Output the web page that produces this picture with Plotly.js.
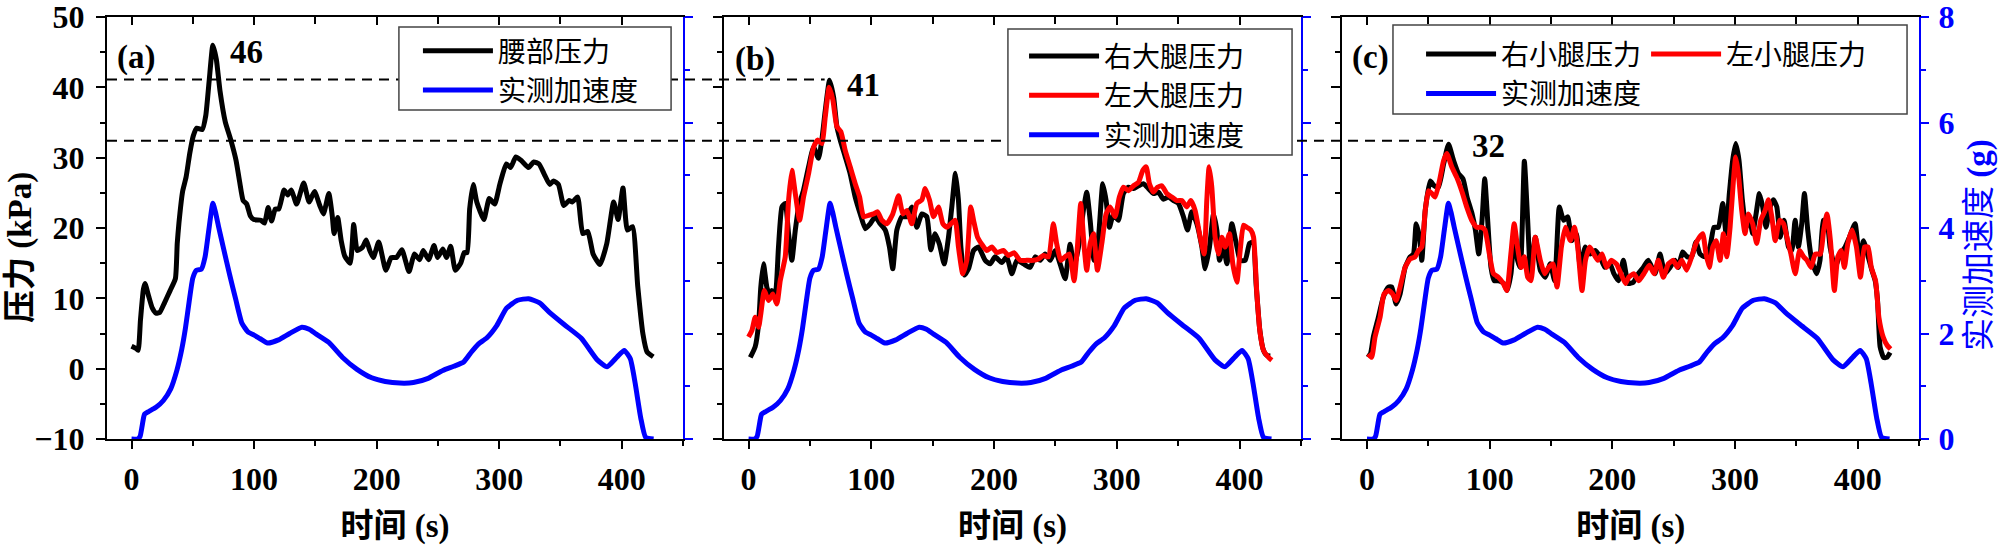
<!DOCTYPE html>
<html><head><meta charset="utf-8">
<script src="https://cdn.plot.ly/plotly-3.0.1.min.js"></script>
<style>html,body{margin:0;padding:0;background:#fff;} #chart{width:2000px;height:545px;}</style>
</head><body><div id="chart"></div>
<script>
// ---------------- DATA ----------------
// measured acceleration (g), same record shown in all three panels
const accT = [0,5,7,8.7,10.6,14,20,26,32,37,41,44,47,50,53,57,60,63,66.4,68.5,71,75,80,85,90,95,100,105,111,120,129,139,145,150,161,172,184,196,207,219,230,242,254,263,271,277,283,290,298,306,315,324,333,341,353,367,380,388,396,402,407,411,415.5,419.5,426];
const accG = [0,0,0.05,0.25,0.47,0.52,0.6,0.73,0.95,1.3,1.7,2.1,2.6,3.05,3.2,3.22,3.45,3.95,4.47,4.3,4.03,3.62,3.12,2.65,2.2,2.03,1.97,1.9,1.82,1.88,2.0,2.12,2.08,2.0,1.83,1.55,1.32,1.16,1.09,1.06,1.07,1.15,1.3,1.38,1.46,1.64,1.8,1.92,2.15,2.48,2.63,2.66,2.58,2.4,2.17,1.91,1.5,1.37,1.55,1.68,1.52,1.05,0.4,0.03,0];

// (a) waist pressure (kPa)
const waistT = [0,3.5,5.4,7.3,9.7,11,14,17,20,23,27,31.5,35.8,37.3,38.7,41.7,44.5,47.5,50.4,53.3,57.7,60.6,63.4,66.4,69.2,72.2,76.5,80.9,85.3,88.2,91.1,94,97,99.8,105.6,108.5,111.5,114.3,117.3,120.2,124.5,127.5,130.4,134.7,140.5,144.9,149.3,153.6,156.6,161,163.8,165.3,168.2,171.1,174,178.4,181.3,184.2,188.6,191.5,194.4,197.3,201.7,207.5,211.9,216.2,220.6,226.4,230.8,235.1,238,242.4,246.8,249.7,254,257,260.4,264.2,268.6,271.5,273.8,275.9,278.8,281.7,287.5,291.9,296.3,300.5,305.8,309.3,313.6,318,323.8,328.2,332.5,336.9,341.2,344.3,348.3,352.7,357,359.7,364,368.2,372.3,376.6,382.2,387.8,393.4,397,401,404.6,408.8,413,417.3,420.6,425.7];
const waistP = [3.2,2.9,2.6,6.9,11.3,12.1,10.3,8.6,7.9,8.0,9.4,11.1,12.8,17.8,20.7,25.2,27.2,30.6,33.1,34.2,34,36,41,46,44,39.5,35.1,32.6,29.6,26.6,23.9,23.4,21.7,21.2,21.1,20.7,22.9,21,22.7,22.7,25.4,24.7,25.4,23.4,26.4,23.7,25.2,23.2,22,24.9,21.7,19.2,21.5,18.2,16,15,20.5,16.8,17.3,18.3,16.8,15.8,18,14,15.8,15.8,16.9,13.8,16.3,15.5,16.8,15.5,17.5,15.8,17,15.8,17.4,14,15,16.5,16.5,22.7,26.2,23.7,21.2,24.2,23.4,26.2,29.1,28.6,30.1,29.6,28.6,29.4,29.1,27.6,26.2,26.7,26.2,23.2,23.9,23.7,24.4,19.2,19.5,16.3,14.8,17.8,23.7,21.2,25.7,19.7,20.2,11.8,4.9,2.4,1.7];

// (b) right thigh pressure (kPa)
const rThighT = [1.4,5.4,8.2,10,12.2,14.9,17.1,19,21.7,24.4,27.2,29.9,32.6,35.3,38.1,40.8,44.8,48.9,53,57,59.7,62.5,66,69.3,72,74.7,78.8,82.8,86.9,91,95.1,99.1,103.2,107.3,111.4,114.8,117.5,120.8,124.9,128.9,133,137.1,141.2,145.2,148.5,152,155.5,159.4,162.9,165.6,168.6,171,173,175.7,179.2,183.3,187.3,192.8,196.8,200.9,206.3,210.4,214.5,218.6,224,229.4,233.5,237.6,241.6,245.7,249.8,253.8,257.9,262,265.2,268.8,272.8,275.5,278.3,281.5,285.1,288.6,291.3,294,297.3,301.3,305.4,309.5,313.6,317.7,321.7,325.8,329.9,333.9,338,342.1,346.2,350.2,354.3,357.6,361.1,365.2,369.3,372,375.5,378.8,381.5,383.7,386.9,389.7,393.7,397.3,400.5,404.6,408.1,411,413.5,416.5,419.5,422,425];
const rThighP = [1.6,3.1,6.4,11.6,14.9,11.6,10.6,11.1,10.6,17.3,23,23.5,19.2,15.4,19.7,23,25.4,28.7,31.5,29.9,32.5,36.7,41,38.6,34.4,32.5,30.1,27.7,24.4,22,19.9,20.6,21.6,20.6,19.7,17.3,14.2,19.7,21.6,21.6,23,20.1,22,21.6,16.9,19.2,17.7,14.9,18.7,23,27.8,23.9,17.3,13.3,14.2,16.8,17.3,15.4,14.9,15.9,15.1,15.9,13.5,15.4,14.9,14.4,15.9,15.4,16.3,15.4,16.8,14.9,12.8,17.7,14.4,17.3,22.5,25.1,21.1,15.4,18.7,26.3,23.9,20.1,22,21.1,24.9,25.8,25.6,26,26.3,25.6,24.9,25.1,24.1,24.4,23.9,23.5,21.6,19.7,22.3,20.6,17.3,14.2,17.3,22,19.7,15.4,17.3,14.9,20.6,17.8,15.4,15.4,17.8,18,12,5.5,2.6,1.9,1.8];

// (b) left thigh pressure (kPa)
const lThighT = [0,2.7,5.4,8.2,10,12.8,16.3,19.8,23.1,25.8,29.9,32.6,35.3,38.1,41.6,44.8,48.9,53,56.2,59.7,62.5,65.7,68.7,72,75.2,78.8,82.8,86.9,90.5,93.7,97.8,101.9,105.1,108.6,112.7,117.5,122.2,125.7,129,133,137.1,141.2,143.9,147.4,150.7,154.7,158.3,161.5,164.8,168.3,171,174.5,177.8,181,183.3,186.5,190,194.1,198.2,202.2,207.7,211.7,216.3,221.2,226.6,232,236.1,240.2,244.3,248.3,251,254.3,257.9,261.4,265.2,267.9,270.6,273.4,275.5,278.3,281,284.2,287.8,291.3,294.6,298.6,302.1,305.4,309.5,313.6,317.7,321.2,323.9,326.6,329.9,333.1,336.7,340.7,344.8,348.9,353,357,360.3,363.8,367.9,371.2,373.3,375.2,377.4,380.1,382.8,385.6,388.3,391.8,394.5,397.8,400.5,403.2,405.9,409.2,411.4,414.1,416.8,419.5,423.6,426.3];
const lThighP = [4.5,5.4,7.3,5.9,7.8,11.1,9.7,10.6,9.2,12.5,15.9,23.9,28.2,24.9,21.1,24.4,27.7,31.5,32.5,32,35.8,40,38.2,34.4,33.7,31,28.7,26.3,24.4,21.6,21.8,22,22.3,21.1,20.6,22,24.6,22,22.5,20.6,23.5,24,25.6,24,21.6,23,20.6,20.1,20.6,21.1,17.3,13.5,15.4,23,21.1,18.7,17.7,16.8,17.3,16.5,16.8,16.1,16.5,15.4,15.4,15.4,15.6,16.1,15.9,20.6,17.8,15.4,15.9,16.3,12.5,17.3,23.5,17.3,14,17.8,19.2,14,17.8,22,23,21.6,24.4,25.8,25.3,26,26.5,28.2,28.7,26.3,25.1,25.8,26,24.9,24.4,23.9,23.9,23,23.9,22.5,18.7,16.3,23.9,28.7,25.8,18.7,16.3,18.7,17.3,19.2,14.9,12.3,16.8,20.4,20.1,19.7,18.7,10.6,5,2.6,1.6,1.2];

// (c) right calf pressure (kPa)
const rCalfT = [0.3,2.5,5.2,9.3,13.4,17.5,20.2,23.8,27,31.1,35.2,37.9,40.1,42.8,44.7,47.5,51.6,54.8,58.3,62.5,66.5,70.6,74.7,78.3,81.6,85.7,88.4,91.1,93.8,96,98.4,101.1,103.8,107.4,111.5,114.2,117.4,120.1,122.8,125,128.3,131,133.4,137.2,141.3,145.4,149.4,153,156.8,160.3,163.6,167.1,170.7,173.9,178,182,186,190,194,198.1,201.3,204.9,209,213.1,217.1,221.2,225.3,229.3,234.8,238.9,242.9,247,251.1,253.8,257.3,261.1,264.7,268.2,271.5,275.6,279.6,282.9,286.4,290,292.7,295.4,298.1,300.6,303.3,306,309,311.7,314.4,317.2,319.9,322.6,325.3,328.6,331.3,334.1,336.8,340,343.6,346.3,349,351.7,354.4,356.6,359.3,362.6,366.6,369.3,372.1,374.8,377.5,381.6,385.7,389.8,393.3,397.9,401.5,404.7,408,411.6,414.3,416.2,418.3,421.1,423.8,426.5];
const rCalfP = [2.1,1.9,4.5,7.3,10.2,11.6,11.6,9.2,10.6,14.4,15.9,16.3,20.6,18.7,15.4,22.5,26.7,26,25.8,29.1,31.9,29.6,27.7,27,24.4,22,19.7,16.3,21.1,27,21.1,14.4,12.5,12.5,12.1,11.1,13.5,19.2,15.4,14.4,29.5,21.1,13.5,18.7,14,13,14.9,12.5,23,21.1,21.6,18.2,19.2,14.4,17.3,16.3,16.8,15.9,14.4,14.9,13.5,12.5,15.4,12.1,12.3,13.5,14.4,15.4,13.5,16.3,13.5,14.4,15.4,14.4,16.6,15.9,15.9,18,16.3,15.9,17.3,20.1,20.1,23.5,19.2,24.9,29.6,32,29.6,24,20.1,21.6,19.2,22,24.9,23,20.1,23,24,23,18.7,21.1,17.3,16.8,21.1,17.3,20.6,24.9,19.7,15.4,13.5,15.4,21.1,21.1,17.3,14.4,16.3,17.3,18.7,20.6,15.4,18.2,16.3,14,12.5,9.7,3.1,1.6,1.6,2.3];

// (c) left calf pressure (kPa)
const lCalfT = [1.1,3.8,6.6,10.7,13.9,17.5,21,23.8,27,31.1,35.2,39.2,42,44.7,47.5,50.1,52.9,55.6,59.1,62.5,65.1,69.1,73.2,77.2,81.3,85.4,89.5,93.6,96.2,99.8,103.1,107.1,111.2,114,117.3,120,122.7,125.7,128.3,131,133.7,137.2,141.3,144.8,148.1,151.6,154.9,158.5,161.7,165.8,169.1,171.8,175.3,178.1,181.6,184.9,188.2,191.6,195.3,199,203.3,206.6,210.7,213.4,217.5,221.6,225.7,230.2,234,237.5,241.6,245.7,249.8,253,256.6,260.6,264.7,268.2,271,273.7,276.4,279.1,281.9,284.6,287.8,290.6,293.3,296,298.7,300.6,302.8,305.5,308.2,310.9,314.4,317.7,321,324.6,327.3,330,332.8,336.3,339.6,342.3,345.6,349.1,352.7,356,358.7,362,365.5,369.6,372.3,375,377.8,381,383.8,386.5,389.2,392,395.5,399,402.3,405.6,408.4,411.1,414.6,417.3,420.8,424.1,426.8];
const lCalfP = [2.1,1.6,4.5,7.3,10.6,11.1,10.6,9.7,11.6,14.4,15.6,15.9,16.8,17.3,22.5,25.3,24.9,24.4,26.7,29.6,30.6,28.7,27.2,25.3,23,21.1,20.1,20.1,19.7,16.3,13.5,13,12.1,11.1,16.3,20.6,17.3,14.4,15.9,13,12.5,18.7,15.4,13.5,14.4,14.9,11.6,17.3,20.1,18.2,20.1,17.3,11.1,15.4,17.3,16.3,15.4,16.3,14.4,15.4,14.9,13.7,12.1,13,13.5,12.5,13.5,14.7,13.5,15.4,13,14.9,15.4,14.4,15.4,14,15.9,17.8,18.7,19.2,16.3,14.4,17.3,18.2,15.4,19.2,15.9,20.1,26.7,30.1,27.7,22.5,19.2,22,20.6,17.8,21.1,22.5,24,21.6,18.2,21.1,20.6,18.7,16.3,13.5,16.8,15.9,15.4,14.4,16.3,16.3,19.7,22,18.2,11.1,15.9,16.8,14.4,17.8,19.7,17.3,13,17.3,17.3,14.4,12.5,7.3,4.5,3.3,2.8];

// reference levels and peak labels
const peakLabels = ['46', '41', '32'];
const refLevels = [41.1, 32.4];
const panelLabels = ['(a)', '(b)', '(c)'];
const yTitleLeft = '压力 (kPa)';
const yTitleRight = '实测加速度 <b>(g)</b>';
const xTitle = '时间 (s)';

// axis ranges
const X_RANGE = [-20, 450];
const P_RANGE = [-10, 50];
const G_RANGE = [0, 8];

// ---------------- STYLE ----------------
const serif = "'Liberation Serif', 'Noto Sans CJK SC', serif";
const cjk = "'Noto Sans CJK SC', sans-serif";
const BLUE = '#0000ff', RED = '#ff0000', BLACK = '#000000';
const LW = 5;
const doms = [[0, 0.3179], [0.3405, 0.6589], [0.6818, 1]];
const tickFont = {family: serif, size: 32, weight: 'bold', color: BLACK};

function xAxis(i) {
  return {
    domain: doms[i], anchor: i === 0 ? 'y' : 'y' + (2 * i + 1), range: X_RANGE,
    showline: true, linecolor: BLACK, linewidth: 2, ticks: 'outside', ticklen: 8, tickwidth: 2, tickcolor: BLACK,
    tick0: 0, dtick: 100, minor: {dtick: 50, ticks: 'outside', ticklen: 5, tickwidth: 2, tickcolor: BLACK},
    tickfont: tickFont, showgrid: false, zeroline: false, ticklabelstandoff: 3, ticklabeloverflow: 'allow',
    title: {text: xTitle, font: {family: serif, size: 33, weight: 'bold', color: BLACK}, standoff: 22}
  };
}
function topAxis(i) {
  const base = i === 0 ? 'x' : 'x' + (i + 1);
  return {
    overlaying: base, side: 'top', anchor: i === 0 ? 'y' : 'y' + (2 * i + 1), range: X_RANGE,
    showline: true, linecolor: BLACK, linewidth: 2, ticks: 'inside', ticklen: 8, tickwidth: 2, tickcolor: BLACK,
    tick0: 0, dtick: 100, minor: {dtick: 50, ticks: 'inside', ticklen: 7, tickwidth: 2, tickcolor: BLACK},
    showticklabels: false, showgrid: false, zeroline: false
  };
}
function leftAxis(i) {
  return {
    domain: [0, 1], anchor: i === 0 ? 'x' : 'x' + (i + 1), range: P_RANGE,
    showline: true, linecolor: BLACK, linewidth: 2, ticks: 'outside', ticklen: 9, tickwidth: 2, tickcolor: BLACK,
    tick0: 0, dtick: 10, minor: {dtick: 5, ticks: 'outside', ticklen: 5, tickwidth: 2, tickcolor: BLACK},
    tickfont: tickFont, showgrid: false, zeroline: false, showticklabels: i === 0,
    ticklabelstandoff: 5, ticklabeloverflow: 'allow'
  };
}
function rightAxis(i) {
  const last = i === 2;
  return {
    overlaying: i === 0 ? 'y' : 'y' + (2 * i + 1), side: 'right', anchor: i === 0 ? 'x' : 'x' + (i + 1), range: G_RANGE,
    showline: true, linecolor: BLUE, linewidth: 2, ticks: 'outside', ticklen: 8, tickwidth: 2, tickcolor: BLUE,
    tick0: 0, dtick: 2, minor: {dtick: 1, ticks: 'outside', ticklen: 5, tickwidth: 2, tickcolor: BLUE},
    showticklabels: last, tickfont: {family: serif, size: 32, weight: 'bold', color: BLUE},
    showgrid: false, zeroline: false, ticklabelstandoff: 3, ticklabeloverflow: 'allow'
  };
}

function line(x, y, color, name, xa, ya, legend, group) {
  const t = {x: x, y: y, type: 'scatter', mode: 'lines', name: name, xaxis: xa, yaxis: ya, legend: legend,
    line: {color: color, width: LW, shape: 'spline', smoothing: 0.5}, hoverinfo: 'x+y'};
  if (group) t.legendgroup = group;
  return t;
}

const traces = [
  line(waistT, waistP, BLACK, '腰部压力', 'x', 'y', 'legend'),
  line(accT, accG, BLUE, '实测加速度', 'x', 'y2', 'legend'),
  line(rThighT, rThighP, BLACK, '右大腿压力', 'x2', 'y3', 'legend2'),
  line(lThighT, lThighP, RED, '左大腿压力', 'x2', 'y3', 'legend2'),
  line(accT, accG, BLUE, '实测加速度', 'x2', 'y4', 'legend2'),
  line(rCalfT, rCalfP, BLACK, '右小腿压力', 'x3', 'y5', 'legend3', 'c1'),
  line(lCalfT, lCalfP, RED, '左小腿压力', 'x3', 'y5', 'legend3', 'c2'),
  line(accT, accG, BLUE, '实测加速度', 'x3', 'y6', 'legend3', 'c1'),
  // empty traces so the mirrored top axes are drawn
  {x: [], y: [], type: 'scatter', xaxis: 'x4', yaxis: 'y', showlegend: false},
  {x: [], y: [], type: 'scatter', xaxis: 'x5', yaxis: 'y3', showlegend: false},
  {x: [], y: [], type: 'scatter', xaxis: 'x6', yaxis: 'y5', showlegend: false}
];

function paperX(i, t) {
  const d = doms[i];
  return d[0] + (t - X_RANGE[0]) / (X_RANGE[1] - X_RANGE[0]) * (d[1] - d[0]);
}

const legendBase = {
  bgcolor: 'rgba(0,0,0,0)', borderwidth: 0,
  font: {family: cjk, size: 28, color: BLACK}, xanchor: 'left', yanchor: 'top', itemwidth: 70
};
// legend frames (paper coordinates): x0, y0, x1, y1
const frames = [
  [0.1611, 0.7795, 0.3113, 0.9763],
  [0.4972, 0.6730, 0.6540, 0.9716],
  [0.7097, 0.7701, 0.9934, 0.9810]
];
const dashStyle = {color: BLACK, width: 2, dash: '10px,7px'};

const shapes = [
  {type: 'line', xref: 'paper', yref: 'y', x0: 0, x1: paperX(1, 62), y0: refLevels[0], y1: refLevels[0], line: dashStyle, layer: 'above'},
  {type: 'line', xref: 'paper', yref: 'y', x0: 0, x1: paperX(2, 63.5), y0: refLevels[1], y1: refLevels[1], line: dashStyle, layer: 'above'}
].concat(frames.map(f => ({type: 'rect', xref: 'paper', yref: 'paper', x0: f[0], y0: f[1], x1: f[2], y1: f[3],
  fillcolor: '#ffffff', line: {color: '#444444', width: 1.5}, layer: 'above'})));

const labelFont = {family: serif, size: 33, weight: 'bold', color: BLACK};
function label(text, xref, yref, x, y) {
  return {text: text, xref: xref, yref: yref, x: x, y: y, showarrow: false, xanchor: 'center', yanchor: 'middle', font: labelFont};
}
const layout = {
  width: 2000, height: 545,
  margin: {l: 107, r: 81, t: 17, b: 106, pad: 0},
  paper_bgcolor: '#ffffff', plot_bgcolor: '#ffffff',
  xaxis: xAxis(0), xaxis2: xAxis(1), xaxis3: xAxis(2),
  xaxis4: topAxis(0), xaxis5: topAxis(1), xaxis6: topAxis(2),
  yaxis: leftAxis(0), yaxis3: leftAxis(1), yaxis5: leftAxis(2),
  yaxis2: rightAxis(0), yaxis4: rightAxis(1), yaxis6: rightAxis(2),
  legend: Object.assign({}, legendBase, {x: 0.1716, y: 0.9787}),
  legend2: Object.assign({}, legendBase, {x: 0.5061, y: 0.9662}),
  legend3: Object.assign({}, legendBase, {x: 0.7252, y: 0.9709, orientation: 'h', traceorder: 'grouped', tracegroupgap: 0}),
  shapes: shapes,
  annotations: [
    label(panelLabels[0], 'x domain', 'y domain', 0.050, 0.905),
    label(panelLabels[1], 'x2 domain', 'y3 domain', 0.054, 0.900),
    label(panelLabels[2], 'x3 domain', 'y5 domain', 0.048, 0.905),
    label(peakLabels[0], 'x', 'y', 94, 45),
    label(peakLabels[1], 'x2', 'y3', 94, 40.3),
    label(peakLabels[2], 'x3', 'y5', 99, 31.7),
    {text: yTitleLeft, xref: 'paper', yref: 'paper', x: -0.048, y: 0.4526, textangle: -90, showarrow: false,
     xanchor: 'center', yanchor: 'middle', font: {family: serif, size: 33, weight: 'bold', color: BLACK}},
    {text: yTitleRight, xref: 'paper', yref: 'paper', x: 1.0331, y: 0.4597, textangle: -90, showarrow: false,
     xanchor: 'center', yanchor: 'middle', font: {family: serif, size: 33, color: BLUE}}
  ]
};

Plotly.newPlot('chart', traces, layout, {staticPlot: true, displayModeBar: false});
</script></body></html>
